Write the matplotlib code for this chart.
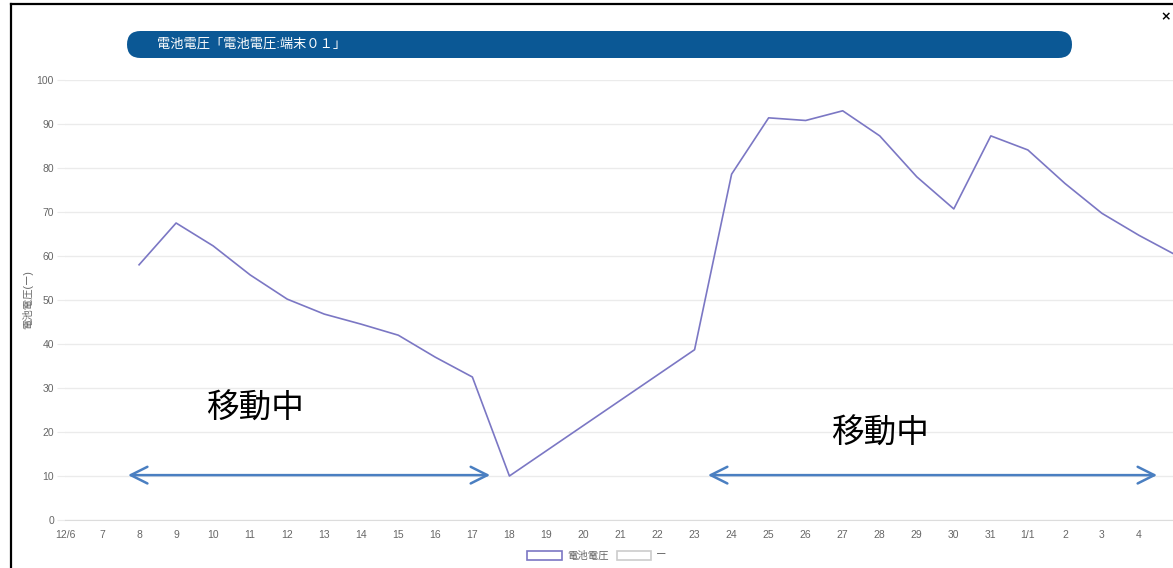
import matplotlib
matplotlib.use("Agg")
import matplotlib.pyplot as plt
from matplotlib.patches import FancyBboxPatch, Patch
from matplotlib.lines import Line2D
from matplotlib.transforms import IdentityTransform
import numpy as np

plt.rcParams['font.family'] = ['Liberation Sans', 'Noto Sans CJK JP', 'DejaVu Sans']

# datos
fechas = ['12/6', '7', '8', '9', '10', '11', '12', '13', '14', '15', '16', '17', '18',
          '19', '20', '21', '22', '23', '24', '25', '26', '27', '28', '29', '30', '31',
          '1/1', '2', '3', '4', '5']
voltaje = [None, None, 58, 67.5, 62.3, 55.7, 50.2, 46.8, 44.5, 42, 37, 32.5, 10,
           None, None, None, None, 38.7, 78.6, 91.4, 90.8, 93, 87.3, 78, 70.7, 87.3,
           84.1, 76.5, 69.7, 64.7, 60.2]
titulo = '電池電圧「電池電圧:端末０１」'
serie1 = '電池電圧'
serie2 = 'ー'
eje_y = '電池電圧(ー)'
yticks = [0, 10, 20, 30, 40, 50, 60, 70, 80, 90, 100]

W, H = 1173, 568
fig = plt.figure(figsize=(W / 100, H / 100), dpi=100)
ax = fig.add_axes([65 / W, 48 / H, (1176 - 65) / W, 440 / H])

x = np.arange(len(fechas))
y = np.array([np.nan if v is None else v for v in voltaje])
ok = ~np.isnan(y)
ax.plot(x[ok], y[ok], color='#7b77c4', lw=1.2)

ax.set_xlim(0, len(fechas) - 1)
ax.set_ylim(0, 100)
ax.set_yticks(yticks)
ax.set_xticks(x)
ax.set_xticklabels(fechas)
ax.grid(axis='y', color='#ebebeb', lw=1)
ax.set_axisbelow(True)
for s in ['top', 'right', 'left']:
    ax.spines[s].set_visible(False)
ax.spines['bottom'].set_color('#dcdcdc')
ax.tick_params(axis='y', length=6, color='#ebebeb', labelsize=7.5, labelcolor='#666666', pad=2)
ax.tick_params(axis='x', length=0, labelsize=7.5, labelcolor='#666666', pad=7)
ax.set_ylabel(eje_y, fontsize=7.5, color='#666666')
ax.yaxis.set_label_coords(-32 / (1176 - 65), 0.5)

# flechas y textos "移動中"
flecha = dict(arrowstyle='<->,head_length=1.2,head_width=0.6', color='#4a7fc1', lw=1.8,
              shrinkA=0, shrinkB=0)
ax.annotate('', xy=(1.7, 10.2), xytext=(11.48, 10.2), arrowprops=flecha)
ax.annotate('', xy=(17.36, 10.2), xytext=(29.49, 10.2), arrowprops=flecha)
ax.text(5.13, 25.2, '移動中', fontsize=23.5, ha='center', va='center', color='black')
ax.text(22.0, 19.5, '移動中', fontsize=23.5, ha='center', va='center', color='black')

# barra de titulo
barra = FancyBboxPatch((127, H - 58), 1072 - 127, 27,
                       boxstyle='round,pad=0,rounding_size=13.5',
                       transform=IdentityTransform(), facecolor='#0b5895',
                       edgecolor='none')
fig.patches.append(barra)
fig.text(157 / W, (H - 44.5) / H, titulo, color='white', fontsize=9.5, va='center', ha='left')
fig.text(1166 / W, (H - 17) / H, '×', fontsize=9, fontweight='bold', ha='center', va='center',
         family=['DejaVu Sans'])

# marco
fig.add_artist(Line2D([11 / W, 11 / W], [0, (H - 4) / H], transform=fig.transFigure, color='black', lw=1.6))
fig.add_artist(Line2D([11 / W, 1], [(H - 4) / H, (H - 4) / H], transform=fig.transFigure, color='black', lw=1.6))

# leyenda
handles = [Patch(facecolor='white', edgecolor='#7b77c4', lw=1.2),
           Patch(facecolor='white', edgecolor='#cccccc', lw=1.2)]
fig.legend(handles, [serie1, serie2], loc='center', bbox_to_anchor=(597 / W, 12 / H),
           ncol=2, frameon=False, fontsize=7.5, handlelength=3.3, handleheight=0.9,
           handletextpad=0.5, columnspacing=0.8, labelcolor='#666666')

fig.savefig('out.png', dpi=100)
